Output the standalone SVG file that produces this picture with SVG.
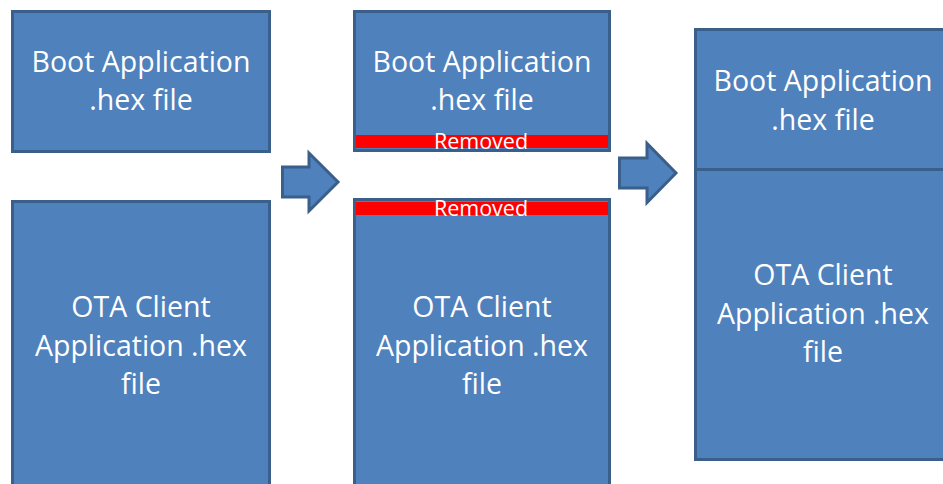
<svg xmlns="http://www.w3.org/2000/svg" width="943" height="484" viewBox="0 0 943 484">
<style>
.box{fill:#4f81bd;stroke:#3a5f8b;stroke-width:3}
.band{fill:#ff0000}
.t{font-family:"Open Sans","Liberation Sans",sans-serif;font-size:28.5px;fill:#ffffff;text-anchor:middle}
.r{font-family:"Open Sans","Liberation Sans",sans-serif;font-size:21.5px;fill:#ffffff;text-anchor:middle}
</style>
<rect width="943" height="484" fill="#ffffff"/>
<g id="boot1">
<rect class="box" x="12.5" y="11.5" width="257" height="140"/>
<text class="t" x="141" y="72">Boot Application</text>
<text class="t" x="141" y="110">.hex file</text>
</g>
<g id="ota1">
<rect class="box" x="12.5" y="201.5" width="257" height="290"/>
<text class="t" x="141" y="317">OTA Client</text>
<text class="t" x="141" y="356">Application .hex</text>
<text class="t" x="141" y="394">file</text>
</g>
<g id="boot2">
<rect class="box" x="354.5" y="11.5" width="255" height="139"/>
<text class="t" x="482" y="72">Boot Application</text>
<text class="t" x="482" y="110">.hex file</text>
<rect class="band" x="356" y="135" width="252" height="13"/>
<text class="r" x="481" y="149">Removed</text>
</g>
<g id="ota2">
<rect class="box" x="354.5" y="199.5" width="255" height="292"/>
<rect class="band" x="356" y="202" width="252" height="13"/>
<text class="r" x="481" y="216">Removed</text>
<text class="t" x="482" y="317">OTA Client</text>
<text class="t" x="482" y="356">Application .hex</text>
<text class="t" x="482" y="394">file</text>
</g>
<g id="merged">
<rect class="box" x="695.5" y="29.5" width="255" height="430"/>
<line x1="695.5" y1="169.5" x2="950" y2="169.5" stroke="#3a5f8b" stroke-width="3"/>
<text class="t" x="823" y="91">Boot Application</text>
<text class="t" x="823" y="130">.hex file</text>
<text class="t" x="823" y="285">OTA Client</text>
<text class="t" x="823" y="324">Application .hex</text>
<text class="t" x="823" y="362">file</text>
</g>
<g id="connectors">
<polygon class="box" points="282.5,167 309,167 309,153 338,182 309,211 309,197 282.5,197"/>
<polygon class="box" points="619.5,158 647,158 647,143.5 676,173 647,202.5 647,188 619.5,188"/>
</g>
</svg>
